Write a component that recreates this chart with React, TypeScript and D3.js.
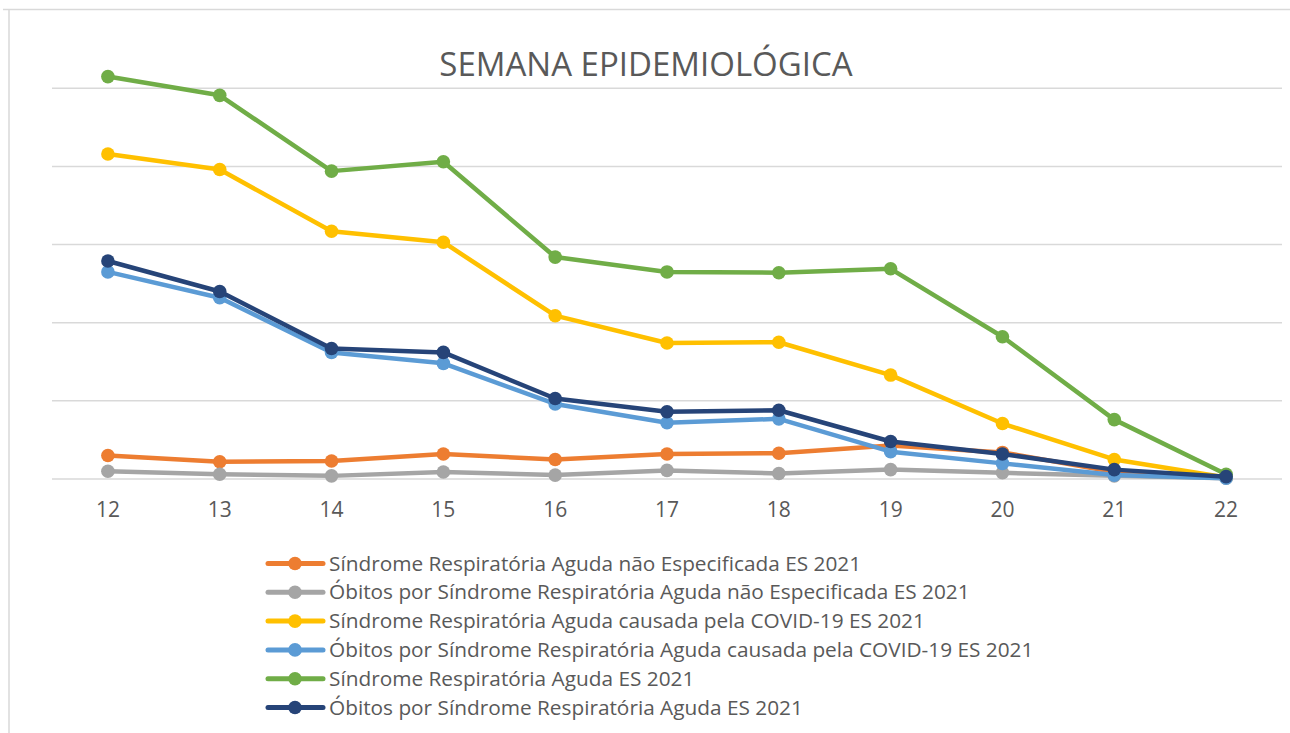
import React from "react";
import * as d3 from "d3";

const weeks = ["12", "13", "14", "15", "16", "17", "18", "19", "20", "21", "22"];
const yTicks = [0, 100, 200, 300, 400, 500];

const sragNaoEspec = [30, 22, 23, 32, 25, 32, 33, 43, 34, 9, 2];
const obitosNaoEspec = [10, 6, 4, 9, 5, 11, 7, 12, 8, 4, 1];
const sragCovid = [416, 396, 317, 303, 209, 174, 175, 133, 71, 25, 2];
const obitosCovid = [265, 232, 162, 148, 96, 72, 77, 35, 20, 5, 1];
const sragTotal = [515, 491, 394, 406, 284, 265, 264, 269, 182, 76, 6];
const obitosTotal = [279, 240, 167, 162, 103, 86, 88, 48, 32, 12, 3];

const seriesNames = [
  "Síndrome Respiratória Aguda não Especificada ES 2021",
  "Óbitos por Síndrome Respiratória Aguda não Especificada ES 2021",
  "Síndrome Respiratória Aguda causada pela COVID-19 ES 2021",
  "Óbitos por Síndrome Respiratória Aguda causada pela COVID-19 ES 2021",
  "Síndrome Respiratória Aguda ES 2021",
  "Óbitos por Síndrome Respiratória Aguda ES 2021",
];
const seriesColors = ["#ED7D31", "#A5A5A5", "#FFC000", "#5B9BD5", "#70AD47", "#264478"];
const seriesValues = [sragNaoEspec, obitosNaoEspec, sragCovid, obitosCovid, sragTotal, obitosTotal];

const title = "SEMANA EPIDEMIOLÓGICA";

const FONT = "'Open Sans', sans-serif";
const TEXT = "#595959";

export default function App() {
  const W = 1290;
  const H = 733;
  const plot = { left: 52, right: 1282, top: 88.3, bottom: 479 };

  const x = d3.scaleBand<string>().domain(weeks).range([plot.left, plot.right]);
  const y = d3.scaleLinear().domain([0, 500]).range([plot.bottom, plot.top]);
  const cx = (w: string) => (x(w) as number) + x.bandwidth() / 2;

  const line = d3
    .line<number>()
    .x((_, i) => cx(weeks[i]))
    .y((d) => y(d));

  const legendX = 268;
  const legendY0 = 563.5;
  const legendStep = 28.8;

  return (
    <svg
      width={W}
      height={H}
      style={{ position: "absolute", left: 0, top: 0, background: "#fff" }}
    >
      <rect x={0} y={0} width={W} height={H} fill="#fff" />
      {/* chart frame */}
      <line x1={3} x2={W} y1={9.5} y2={9.5} stroke="#d9d9d9" strokeWidth={1.5} />
      <line x1={9} x2={9} y1={9.5} y2={H} stroke="#d9d9d9" strokeWidth={1.5} />

      <text
        x={646}
        y={76}
        textAnchor="middle"
        fontFamily={FONT}
        fontSize={33}
        fill={TEXT}
      >
        {title}
      </text>

      {/* gridlines */}
      {yTicks.map((t) => (
        <line
          key={t}
          x1={plot.left}
          x2={plot.right}
          y1={y(t)}
          y2={y(t)}
          stroke="#d9d9d9"
          strokeWidth={1.5}
        />
      ))}

      {/* x labels */}
      {weeks.map((w) => (
        <text
          key={w}
          x={cx(w)}
          y={517}
          textAnchor="middle"
          fontFamily={FONT}
          fontSize={21}
          fill={TEXT}
        >
          {w}
        </text>
      ))}

      {/* series */}
      {seriesValues.map((vals, si) => (
        <g key={si}>
          <path
            d={line(vals) as string}
            fill="none"
            stroke={seriesColors[si]}
            strokeWidth={4.5}
            strokeLinejoin="round"
            strokeLinecap="round"
          />
          {vals.map((v, i) => (
            <circle
              key={i}
              cx={cx(weeks[i])}
              cy={y(v)}
              r={6.8}
              fill={seriesColors[si]}
            />
          ))}
        </g>
      ))}

      {/* legend */}
      {seriesNames.map((name, si) => {
        const ly = legendY0 + si * legendStep;
        return (
          <g key={name}>
            <line
              x1={legendX}
              x2={legendX + 55}
              y1={ly}
              y2={ly}
              stroke={seriesColors[si]}
              strokeWidth={5}
              strokeLinecap="round"
            />
            <circle cx={legendX + 27} cy={ly} r={6.8} fill={seriesColors[si]} />
            <text
              x={329}
              y={ly + 7}
              fontFamily={FONT}
              fontSize={20.8}
              fill={TEXT}
            >
              {name}
            </text>
          </g>
        );
      })}
    </svg>
  );
}
